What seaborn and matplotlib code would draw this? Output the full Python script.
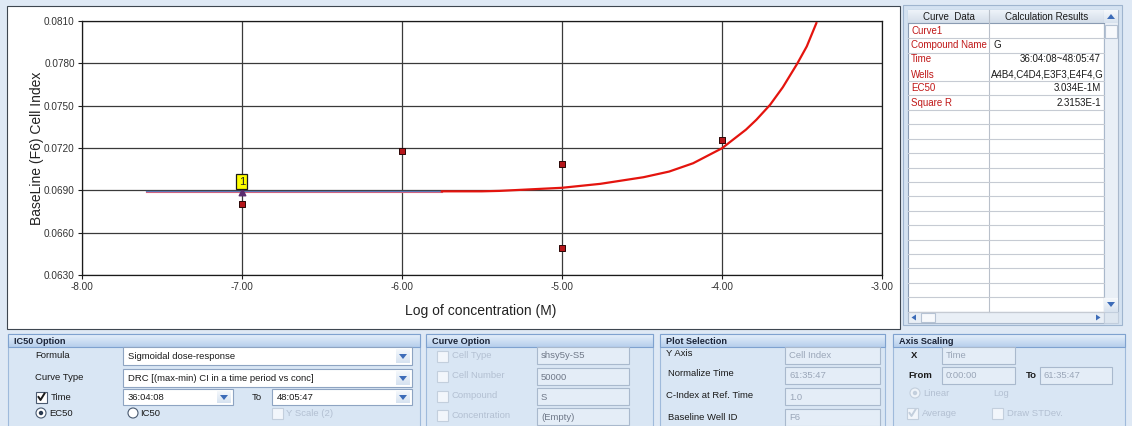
import numpy as np
import pandas as pd
import matplotlib
matplotlib.use("Agg")
import matplotlib.pyplot as plt
from matplotlib.patches import Rectangle, Circle, Polygon
from matplotlib.colors import LinearSegmentedColormap
from matplotlib.ticker import FormatStrFormatter
import seaborn as sns

# ---- data -------------------------------------------------------------
# measured wells: log concentration vs baseline (F6) cell index
log_conc = [-7.0, -6.0, -5.0, -5.0, -4.0]
cell_index = [0.0680, 0.0718, 0.0709, 0.0649, 0.0726]

# fitted sigmoidal dose-response curve
fit_log_conc = [-5.75, -5.50, -5.39, -5.00, -4.76, -4.49, -4.33, -4.18,
                -4.00, -3.85, -3.785, -3.70, -3.62, -3.53, -3.47, -3.41]
fit_cell_index = [0.06893, 0.06893, 0.06896, 0.06918, 0.06946, 0.06993,
                  0.07033, 0.07092, 0.07198, 0.07330, 0.07400, 0.07505,
                  0.07630, 0.07797, 0.07920, 0.08085]

# baseline reference segment
baseline_x = [-7.6, -5.75]
baseline_y = [0.06896, 0.06896]

# flagged point "1"
flag_x = [-7.0]
flag_y = [0.06887]
flag_label = "1"
flag_box_y = 0.0696

x_ticks = [-8.0, -7.0, -6.0, -5.0, -4.0, -3.0]
y_ticks = [0.0630, 0.0660, 0.0690, 0.0720, 0.0750, 0.0780, 0.0810]

table_keys = ["Curve1", "Compound Name", "Time", "Wells", "EC50", "Square R"]
table_values = ["", "G", "36:04:08~48:05:47", "A4B4,C4D4,E3F3,E4F4,G",
                "3.034E-1M", "2.3153E-1"]

# ---- figure -----------------------------------------------------------
W, H = 1132, 426
plt.rcParams["font.family"] = ["Liberation Sans", "DejaVu Sans"]
fig = plt.figure(figsize=(W / 100, H / 100), dpi=100)
fig.patch.set_facecolor("#dfe9f5")

ui = fig.add_axes([0, 0, 1, 1], zorder=0)
ui.set_xlim(0, W)
ui.set_ylim(H, 0)
ui.axis("off")

TXT = "#1a1a1a"
DIS = "#b3c0d2"
FS = 6.8      # option panel text
TFS = 7.0     # table text


def box(x0, y0, x1, y1, fc, ec="none", lw=0.8, z=1):
    ui.add_patch(Rectangle((x0, y0), x1 - x0, y1 - y0, fc=fc, ec=ec, lw=lw, zorder=z))


def grad(x0, y0, x1, y1, ctop, cbot, z=1):
    cm = LinearSegmentedColormap.from_list("g", [ctop, cbot])
    ui.imshow(np.linspace(0, 1, 32).reshape(-1, 1), extent=(x0, x1, y1, y0),
              cmap=cm, aspect="auto", zorder=z, interpolation="bilinear")


def label(x, y, s, size=FS, color=TXT, ha="left", weight="normal", z=5, **kw):
    return ui.text(x, y, s, fontsize=size, color=color, ha=ha, va="center",
                   weight=weight, zorder=z, **kw)


def arrow_btn(x0, y0, x1, y1):
    grad(x0, y0, x1, y1, "#f4f8fc", "#d6e2f0", z=3)
    cx, cy = (x0 + x1) / 2, (y0 + y1) / 2
    ui.add_patch(Polygon([(cx - 4, cy - 2), (cx + 4, cy - 2), (cx, cy + 3)],
                         closed=True, fc="#3d6cb8", ec="none", zorder=4))


def combo(x0, y0, x1, y1, s):
    box(x0, y0, x1, y1, "white", "#8ea4c2", z=2)
    arrow_btn(x1 - 16, y0 + 2, x1 - 2, y1 - 2)
    label(x0 + 5, (y0 + y1) / 2 + 0.5, s)


def textbox(x0, y0, x1, y1, s, color="#9aa6b8"):
    box(x0, y0, x1, y1, "#e4edf7", "#a9b9cd", z=2)
    label(x0 + 4, (y0 + y1) / 2 + 0.5, s, color=color)


def checkbox(x, y, checked=False, enabled=True):
    ec = "#4a5a70" if enabled else "#c3cfdd"
    box(x, y - 5.5, x + 11, y + 5.5, "white" if enabled else "#f2f6fb", ec, z=3)
    if checked:
        ui.plot([x + 2.5, x + 4.5, x + 8.5], [y, y + 3, y - 3.5],
                color="#1a1a1a" if enabled else "#c3cfdd", lw=1.4, zorder=4)


def radio(x, y, selected=False, enabled=True):
    ec = "#4a5a70" if enabled else "#c3cfdd"
    ui.add_patch(Circle((x, y), 5, fc="white" if enabled else "#eef3f9", ec=ec, lw=0.8, zorder=3))
    if selected:
        ui.add_patch(Circle((x, y), 2.2, fc="#2a3a50" if enabled else "#c3cfdd", ec="none", zorder=4))


def group(x0, x1, title):
    box(x0, 334, x1, H + 2, "#d9e6f4", "#9fbadb", z=1)
    grad(x0, 334, x1, 347, "#e6f0fb", "#b7cfec", z=2)
    box(x0, 334, x1, 347, "none", "#7fa2cf", z=2)
    label(x0 + 6, 341, title, size=6.6, weight="bold", color="#1b2438")


# ---- chart panel ------------------------------------------------------
box(7, 6, 900, 329, "white", "#3e4650", lw=0.8, z=1)

ax = fig.add_axes([81.7 / W, 1 - 275 / H, (882 - 81.7) / W, (275 - 21) / H], zorder=2)
ax.set_facecolor("white")

fit_df = pd.DataFrame({"log_conc": fit_log_conc, "cell_index": fit_cell_index})
pts_df = pd.DataFrame({"log_conc": log_conc, "cell_index": cell_index})

ax.plot(baseline_x, [v - 0.00005 for v in baseline_y], color="#e0607a", lw=0.8, zorder=3)
ax.plot(baseline_x, baseline_y, color="#5a78b8", lw=0.9, zorder=3)
sns.lineplot(data=fit_df, x="log_conc", y="cell_index", ax=ax, color="#e4140e",
             lw=1.6, estimator=None, zorder=4)
sns.scatterplot(data=pts_df, x="log_conc", y="cell_index", ax=ax, marker="s", s=16,
                color="#b5161a", edgecolor="#2a0606", linewidth=0.7, zorder=6)
ax.scatter(flag_x, flag_y, marker="^", s=22, color="#5a2d6e", zorder=6)
ax.text(flag_x[0], flag_box_y, flag_label, ha="center", va="center", fontsize=8,
        color="#222222", zorder=7,
        bbox=dict(boxstyle="square,pad=0.22", fc="#ffff00", ec="#1a1a1a", lw=0.9))

ax.set_xlim(-8, -3)
ax.set_ylim(0.0630, 0.0810)
ax.set_xticks(x_ticks)
ax.set_yticks(y_ticks)
ax.xaxis.set_major_formatter(FormatStrFormatter("%.2f"))
ax.yaxis.set_major_formatter(FormatStrFormatter("%.4f"))
ax.grid(True, color="#3a3a3a", lw=0.9)
ax.set_axisbelow(True)
for sp in ax.spines.values():
    sp.set_color("#1a1a1a")
    sp.set_linewidth(0.9)
ax.tick_params(direction="out", length=3, width=0.8, color="#1a1a1a",
               labelsize=7.2, labelcolor="#333333", pad=2)
ax.set_xlabel("Log of concentration (M)", fontsize=10, color="#222222", va="center")
ax.set_ylabel("BaseLine (F6) Cell Index", fontsize=10, color="#222222", va="center")
ax.xaxis.set_label_coords(0.499, -(311 - 275) / 254)
ax.yaxis.set_label_coords(-(81.7 - 37) / 800.3, 0.5)

# ---- results table ----------------------------------------------------
box(903, 5, 1122, 325, "#d4e2f1", "#9fb5cf", z=1)
box(908, 10, 1104, 312, "white", "#8a9bb2", z=2)
grad(908, 10, 1104, 23, "#eef3f9", "#d3dde9", z=2)
ui.plot([908, 1104], [23, 23], color="#8a9bb2", lw=0.8, zorder=3)
ui.plot([989, 989], [10, 312], color="#b9c0ca", lw=0.8, zorder=3)
label(948.5, 16.5, "Curve  Data", size=7, ha="center")
label(1046.5, 16.5, "Calculation Results", size=7, ha="center")

row_edges = [23, 38, 52.5, 81, 95, 110]
row_edges += [110 + 14.4 * k for k in range(1, 15)]
for yy in row_edges[1:]:
    ui.plot([908, 1104], [yy, yy], color="#c6cbd3", lw=0.8, zorder=3)

key_y = [30.5, 45.5, 59.5, 74.5, 88, 102.5]
clip = Rectangle((989, 23), 114, 289, transform=ui.transData)
for k, v, yy in zip(table_keys, table_values, key_y):
    label(911, yy, k, size=TFS, color="#c01818")
    if v == "G":
        label(993, yy, v, size=TFS)
    elif k == "Wells":
        t = label(991, yy, v, size=TFS, clip_on=True)
        t.set_clip_path(clip)
    elif v:
        label(1101, yy, v, size=TFS, ha="right")

# vertical scrollbar
box(1104, 10, 1118, 312, "#e9eff6", "#a9b8cb", z=2)
grad(1104, 10, 1118, 23, "#f6f9fc", "#d8e2ee", z=3)
ui.add_patch(Polygon([(1107, 19), (1115, 19), (1111, 14)], fc="#3d6cb8", ec="none", zorder=4))
box(1105, 25, 1117, 38, "#f7f9fc", "#b5c2d3", z=3)
grad(1104, 298, 1118, 312, "#f6f9fc", "#d8e2ee", z=3)
ui.add_patch(Polygon([(1107, 302), (1115, 302), (1111, 307)], fc="#3d6cb8", ec="none", zorder=4))
# horizontal scrollbar
box(908, 312, 1104, 323, "#e9eff6", "#a9b8cb", z=2)
ui.add_patch(Polygon([(916, 314.5), (916, 320.5), (911.5, 317.5)], fc="#3d6cb8", ec="none", zorder=4))
box(921, 313, 935, 322, "#f7f9fc", "#b5c2d3", z=3)
ui.add_patch(Polygon([(1096, 314.5), (1096, 320.5), (1100.5, 317.5)], fc="#3d6cb8", ec="none", zorder=4))
box(1104, 312, 1118, 323, "#dde6f0", "#c2cedd", z=2)

# ---- option panels ----------------------------------------------------
group(8, 420, "IC50 Option")
label(35, 355, "Formula")
combo(123, 347, 412, 365, "Sigmoidal dose-response")
label(35, 377, "Curve Type")
combo(123, 369, 412, 387, "DRC [(max-min) CI in a time period vs conc]")
checkbox(36, 397, checked=True)
label(51, 397, "Time")
combo(123, 389, 233, 405, "36:04:08")
label(252, 397, "To")
combo(272, 389, 412, 405, "48:05:47")
radio(41, 413, selected=True)
label(49, 413, "EC50")
radio(133, 413)
label(140, 413, "IC50")
checkbox(272, 413, enabled=False)
label(286, 413, "Y Scale (2)", color=DIS)

group(426, 653, "Curve Option")
for yy, s in zip([356, 376, 396, 415], ["Cell Type", "Cell Number", "Compound", "Concentration"]):
    checkbox(437, yy, enabled=False)
    label(452, yy, s, color=DIS)
textbox(537, 347, 629, 364, "shsy5y-S5", color="#6f7888")
textbox(537, 368, 629, 385, "50000", color="#6f7888")
textbox(537, 388, 629, 405, "S", color="#6f7888")
textbox(537, 408, 629, 425, "(Empty)", color="#6f7888")

group(660, 885, "Plot Selection")
label(666, 354, "Y Axis")
label(668, 374, "Normalize Time")
label(666, 395, "C-Index at Ref. Time")
label(668, 417, "Baseline Well ID")
textbox(785, 347, 880, 364, "Cell Index")
textbox(785, 367, 880, 384, "61:35:47")
textbox(785, 388, 880, 405, "1.0")
textbox(785, 409, 880, 426, "F6")

group(893, 1125, "Axis Scaling")
label(911, 355, "X", weight="bold")
textbox(942, 347, 1015, 364, "Time")
label(908, 375, "From", weight="bold")
textbox(942, 367, 1015, 384, "0:00:00")
label(1026, 375, "To", weight="bold")
textbox(1040, 367, 1112, 384, "61:35:47")
radio(915, 393, selected=True, enabled=False)
label(923, 393, "Linear", color=DIS)
label(993, 393, "Log", color=DIS)
checkbox(907, 413, checked=True, enabled=False)
label(922, 413, "Average", color=DIS)
checkbox(992, 413, enabled=False)
label(1007, 413, "Draw STDev.", color=DIS)

ui.set_xlim(0, W)
ui.set_ylim(H, 0)
fig.savefig("out.png", dpi=100)
